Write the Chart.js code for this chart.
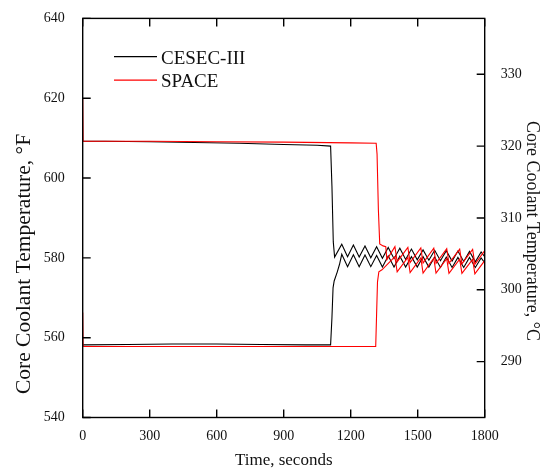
<!DOCTYPE html>
<html>
<head>
<meta charset="utf-8">
<title>Core Coolant Temperature</title>
<script src="https://cdn.jsdelivr.net/npm/chart.js@4/dist/chart.umd.min.js"></script>
<style>
  html, body { margin: 0; padding: 0; background: #fff; }
  canvas { display: block; }
</style>
</head>
<body>
<canvas id="coolant" width="550" height="471"></canvas>
<script>
// series names shown in the legend
const seriesNames = ["CESEC-III", "SPACE"];

// CESEC-III, upper (hot) trace
const cesecHotTime = [0, 100, 300, 500, 700, 900, 1050, 1110, 1116, 1122, 1128,
  1160, 1186, 1212, 1238, 1264, 1290, 1316, 1342, 1368, 1394, 1420, 1446, 1472,
  1498, 1524, 1550, 1576, 1602, 1628, 1654, 1680, 1706, 1732, 1758, 1784, 1800];
const cesecHotTemp = [609.2, 609.2, 609.1, 608.9, 608.7, 608.4, 608.2, 608.0, 598.0, 584.0, 580.2,
  583.4, 580.3, 583.2, 580.2, 583.0, 580.0, 582.8, 579.9, 582.6, 579.8, 582.4, 579.6, 582.2,
  579.5, 582.0, 579.4, 581.9, 579.3, 581.8, 579.2, 581.7, 579.1, 581.6, 579.0, 581.5, 580.3];

// CESEC-III, lower (cold) trace
const cesecColdTime = [0, 200, 400, 600, 800, 1000, 1110, 1116, 1121, 1126, 1140, 1150,
  1160, 1186, 1212, 1238, 1264, 1290, 1316, 1342, 1368, 1394, 1420, 1446, 1472,
  1498, 1524, 1550, 1576, 1602, 1628, 1654, 1680, 1706, 1732, 1758, 1784, 1800];
const cesecColdTemp = [558.2, 558.3, 558.4, 558.4, 558.3, 558.2, 558.2, 565.0, 572.5, 574.2, 576.5, 578.4,
  580.9, 577.8, 580.8, 577.8, 580.7, 577.8, 580.6, 577.7, 580.5, 577.7, 580.4, 577.7, 580.3,
  577.7, 580.3, 577.7, 580.2, 577.6, 580.2, 577.6, 580.1, 577.6, 580.1, 577.6, 580.0, 578.8];

// SPACE, upper (hot) trace
const spaceHotTime = [0, 2, 300, 600, 900, 1200, 1314, 1318, 1324, 1330, 1345, 1357, 1362,
  1398, 1408, 1456, 1466, 1514, 1524, 1572, 1582, 1630, 1640, 1688, 1698, 1746, 1756, 1800];
const spaceHotTemp = [620.0, 609.2, 609.2, 609.1, 609.0, 608.8, 608.7, 606.0, 592.0, 583.5, 583.0, 582.8, 579.5,
  582.8, 579.0, 582.6, 578.8, 582.5, 578.7, 582.4, 578.6, 582.3, 578.6, 582.2, 578.5, 582.1, 578.4, 581.8];

// SPACE, lower (cold) trace
const spaceColdTime = [0, 2, 300, 600, 900, 1200, 1312, 1316, 1320, 1326, 1340,
  1398, 1408, 1456, 1466, 1514, 1524, 1572, 1582, 1630, 1640, 1688, 1698, 1746, 1756, 1800];
const spaceColdTemp = [566.3, 557.8, 557.8, 557.8, 557.8, 557.8, 557.8, 566.0, 574.0, 576.5, 577.0,
  580.3, 576.5, 580.1, 576.3, 580.0, 576.2, 579.9, 576.2, 579.8, 576.1, 579.7, 576.1, 579.6, 576.0, 579.3];

// axis ticks
const timeTicks = [0, 300, 600, 900, 1200, 1500, 1800];
const fahrenheitTicks = [540, 560, 580, 600, 620, 640];
const celsiusTicks = [290, 300, 310, 320, 330];

const SERIF = "'Liberation Serif', 'Times New Roman', serif";
const BLACK = "#000000";
const RED = "#ff0000";

const toPoints = (xs, ys) => xs.map((x, i) => ({ x, y: ys[i] }));
const toCelsius = f => (f - 32) / 1.8;
const plainLabel = v => String(v);

const lineStyle = color => ({
  borderColor: color,
  borderWidth: 1.1,
  pointRadius: 0,
  tension: 0,
  fill: false,
  yAxisID: "y",
});

// frame, inward tick marks, axis titles and legend
const decorations = {
  id: "decorations",
  afterDraw(chart) {
    const { ctx, chartArea: a, scales } = chart;
    const tick = 8;
    ctx.save();
    ctx.strokeStyle = BLACK;
    ctx.lineWidth = 1.4;
    ctx.strokeRect(a.left, a.top, a.right - a.left, a.bottom - a.top);

    ctx.beginPath();
    scales.x.ticks.forEach(t => {
      const px = scales.x.getPixelForValue(t.value);
      ctx.moveTo(px, a.bottom); ctx.lineTo(px, a.bottom - tick);
      ctx.moveTo(px, a.top); ctx.lineTo(px, a.top + tick);
    });
    scales.y.ticks.forEach(t => {
      const py = scales.y.getPixelForValue(t.value);
      ctx.moveTo(a.left, py); ctx.lineTo(a.left + tick, py);
    });
    scales.y1.ticks.forEach(t => {
      const py = scales.y1.getPixelForValue(t.value);
      ctx.moveTo(a.right, py); ctx.lineTo(a.right - tick, py);
    });
    ctx.stroke();

    // axis titles
    ctx.fillStyle = "#111";
    ctx.textBaseline = "alphabetic";
    ctx.textAlign = "center";
    ctx.font = "17px " + SERIF;
    ctx.fillText("Time, seconds", (a.left + a.right) / 2, 465);

    ctx.save();
    ctx.translate(30, 264);
    ctx.rotate(-Math.PI / 2);
    ctx.font = "21.5px " + SERIF;
    ctx.fillText("Core Coolant Temperature, °F", 0, 0);
    ctx.restore();

    ctx.save();
    ctx.translate(527, 231);
    ctx.rotate(Math.PI / 2);
    ctx.font = "18px " + SERIF;
    ctx.fillText("Core Coolant Temperature, °C", 0, 0);
    ctx.restore();

    // legend
    const colors = [BLACK, RED];
    ctx.font = "19px " + SERIF;
    ctx.textAlign = "left";
    seriesNames.forEach((name, i) => {
      const y = 56.7 + i * 23.5;
      ctx.strokeStyle = colors[i];
      ctx.lineWidth = 1.2;
      ctx.beginPath();
      ctx.moveTo(114, y);
      ctx.lineTo(157, y);
      ctx.stroke();
      ctx.fillStyle = "#111";
      ctx.fillText(name, 161, y + 6.8);
    });
    ctx.restore();
  },
};

new Chart(document.getElementById("coolant"), {
  type: "line",
  data: {
    datasets: [
      { label: seriesNames[1], data: toPoints(spaceHotTime, spaceHotTemp), ...lineStyle(RED) },
      { label: seriesNames[1], data: toPoints(spaceColdTime, spaceColdTemp), ...lineStyle(RED) },
      { label: seriesNames[0], data: toPoints(cesecHotTime, cesecHotTemp), ...lineStyle(BLACK) },
      { label: seriesNames[0], data: toPoints(cesecColdTime, cesecColdTemp), ...lineStyle(BLACK) },
    ],
  },
  options: {
    responsive: false,
    animation: false,
    layout: { padding: { top: 16, left: 0, right: 0, bottom: 0 } },
    plugins: {
      legend: { display: false },
      tooltip: { enabled: false },
    },
    scales: {
      x: {
        type: "linear",
        min: 0,
        max: 1800,
        grid: { display: false },
        border: { display: false },
        afterBuildTicks: s => { s.ticks = timeTicks.map(value => ({ value })); },
        afterFit: s => { s.height = 53.5; },
        ticks: { color: "#111", padding: 2, maxRotation: 0, callback: plainLabel, font: { family: SERIF, size: 14 } },
      },
      y: {
        position: "left",
        min: 540,
        max: 640,
        grid: { display: false },
        border: { display: false },
        afterBuildTicks: s => { s.ticks = fahrenheitTicks.map(value => ({ value })); },
        afterFit: s => { s.width = 82.7; },
        ticks: { color: "#111", padding: 10, callback: plainLabel, font: { family: SERIF, size: 14 } },
      },
      y1: {
        position: "right",
        min: toCelsius(540),
        max: toCelsius(640),
        grid: { display: false },
        border: { display: false },
        afterBuildTicks: s => { s.ticks = celsiusTicks.map(value => ({ value })); },
        afterFit: s => { s.width = 65.3; },
        ticks: { color: "#111", padding: 8, callback: plainLabel, font: { family: SERIF, size: 14 } },
      },
    },
  },
  plugins: [decorations],
});
</script>
</body>
</html>
